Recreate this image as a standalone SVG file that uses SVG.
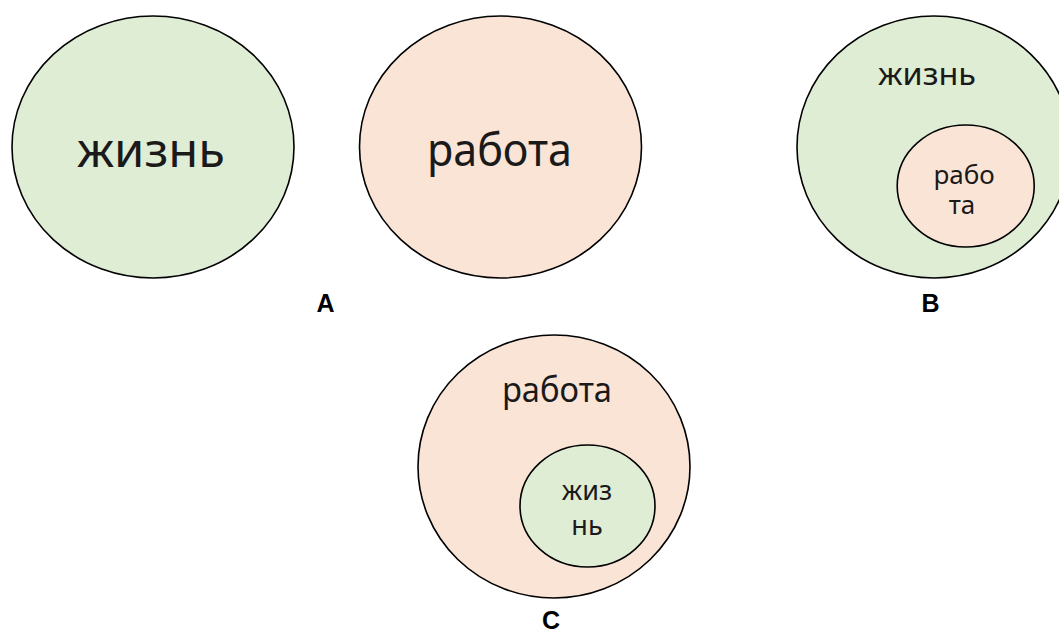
<svg xmlns="http://www.w3.org/2000/svg" width="1059" height="632" viewBox="0 0 1059 632">
<style>
.g{fill:#dfedd5;stroke:#000;stroke-width:1.6}
.p{fill:#fae4d6;stroke:#000;stroke-width:1.6}
.t{font-family:"Noto Sans",sans-serif;fill:#1a1a1a;text-anchor:middle}
.l{font-family:"Liberation Sans",Arial,sans-serif;font-weight:bold;font-size:25px;fill:#000;text-anchor:middle}
</style>
<rect width="1059" height="632" fill="#fff"/>
<g id="A-life">
<ellipse class="g" cx="153" cy="147" rx="141" ry="131"/>
<text class="t" x="151" y="167" font-size="47" textLength="148" lengthAdjust="spacingAndGlyphs">жизнь</text>
</g>
<g id="A-work">
<ellipse class="p" cx="500.5" cy="147" rx="141" ry="131"/>
<text class="t" x="499.5" y="166" font-size="46" textLength="145" lengthAdjust="spacingAndGlyphs">работа</text>
</g>
<g id="A-label"><text class="l" x="325.5" y="311.5">A</text></g>
<g id="B-life">
<ellipse class="g" cx="934" cy="147" rx="137" ry="131"/>
<text class="t" x="927" y="85" font-size="30.5" textLength="98" lengthAdjust="spacingAndGlyphs">жизнь</text>
</g>
<g id="B-work">
<ellipse class="p" cx="965.7" cy="186" rx="68.5" ry="61"/>
<text class="t" font-size="26"><tspan x="964" y="184">рабо</tspan><tspan x="962" y="214">та</tspan></text>
</g>
<g id="B-label"><text class="l" x="930.5" y="311.5">B</text></g>
<g id="C-work">
<ellipse class="p" cx="554" cy="466.5" rx="136" ry="131.5"/>
<text class="t" x="557" y="401.5" font-size="35" textLength="110" lengthAdjust="spacingAndGlyphs">работа</text>
</g>
<g id="C-life">
<ellipse class="g" cx="587.5" cy="506" rx="67.5" ry="61"/>
<text class="t" font-size="27"><tspan x="587" y="500">жиз</tspan><tspan x="587" y="535">нь</tspan></text>
</g>
<g id="C-label"><text class="l" x="551" y="629">C</text></g>
<g id="connectors"/>
</svg>
